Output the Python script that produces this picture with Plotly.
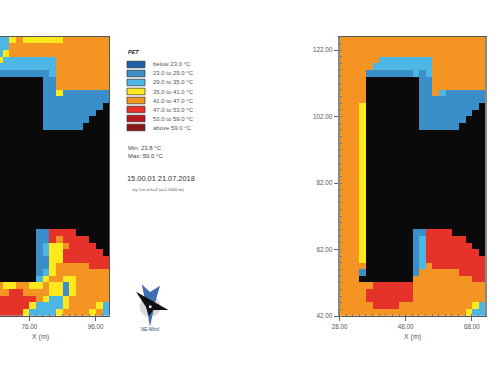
import plotly.graph_objects as go

# ---- data ----
legend_labels = ["below 23.0 °C", "23.0 to 29.0 °C", "29.0 to 35.0 °C", "35.0 to 41.0 °C",
                 "41.0 to 47.0 °C", "47.0 to 53.0 °C", "53.0 to 59.0 °C", "above 59.0 °C"]
legend_colors = ["#1d5ea6", "#3a8fc9", "#4db6e2", "#ffe91c", "#f39423", "#e6332a", "#bb1722", "#8e1516"]
building_color = "#0a0a0a"
codes = "KBMLYORDA"  # K building, then the eight PET classes in order

left_x0 = 66
right_x0 = 28
y0_top = 126

left_rows = [
    "LL"+"Y"+"O"+"Y"*6+"O"*7,
    "LL"+"O"*15,
    "LY"+"O"*15,
    "Y"+"L"*8+"O"*8,
    "L"*9+"O"*8,
    "M"*8+"L"+"O"*8,
    "K"*7+"MM"+"O"*8,
    "K"*7+"MM"+"O"*8,
    "K"*7+"MM"+"Y"+"M"*7,
    "K"*7+"M"*10,
    "K"*7+"M"*9+"K",
    "K"*7+"M"*8+"KK",
    "K"*7+"M"*7+"KKK",
    "K"*7+"M"*6+"KKKK",
] + ["K"*17]*15 + [
    "K"*6+"MM"+"RRRR"+"K"*5,
    "K"*6+"MM"+"R"+"O"+"RRRR"+"KKK",
    "K"*6+"ML"+"YY"+"O"+"RRRR"+"KK",
    "K"*6+"ML"+"YY"+"R"*6+"K",
    "K"*6+"MM"+"YY"+"R"*7,
    "K"*6+"MM"+"Y"+"O"*5+"RRR",
    "K"*6+"ML"+"Y"+"O"*8,
    "K"*6+"LY"+"OO"+"YY"+"O"*5,
    "O"+"YY"+"OO"+"YY"+"O"+"YY"+"M"+"Y"+"O"*5,
    "OO"+"RR"+"OOOO"+"YY"+"M"+"Y"+"O"*5,
    "R"*6+"O"+"Y"+"LL"+"Y"+"O"*6,
    "R"*5+"Y"+"LLLL"+"Y"+"OOOO"+"Y"+"L",
    "RRRR"+"Y"+"LLLL"+"Y"+"OOOO"+"Y"+"O"+"L",
]

right_rows = [
    "O"*22,
    "O"*22,
    "O"*22,
    "O"*6+"L"*8+"O"*8,
    "O"*5+"L"*9+"O"*8,
    "O"*4+"M"*7+"LML"+"O"*8,
    "O"*4+"K"*8+"MM"+"O"*8,
    "O"*4+"K"*8+"MM"+"O"*8,
    "O"*4+"K"*8+"MM"+"OL"+"M"*6,
    "O"*4+"K"*8+"M"*10,
    "OOOY"+"K"*8+"M"*9+"K",
    "OOOY"+"K"*8+"M"*8+"KK",
    "OOOY"+"K"*8+"M"*7+"KKK",
    "OOOY"+"K"*8+"M"*6+"KKKK",
] + ["OOOY"+"K"*18]*15 + [
    "OOOY"+"K"*7+"MM"+"RRRR"+"K"*5,
    "OOOY"+"K"*7+"ML"+"R"*6+"KKK",
    "OOOY"+"K"*7+"ML"+"R"*7+"KK",
    "OOOY"+"K"*7+"ML"+"R"*8+"K",
    "OOOY"+"K"*7+"ML"+"R"*9,
    "OOOO"+"K"*7+"MLO"+"R"*8,
    "OOOM"+"K"*7+"M"+"O"*6+"RRRR",
    "OOO"+"K"*8+"O"*9+"RR",
    "O"*5+"R"*6+"O"*11,
    "O"*4+"R"*7+"O"*11,
    "O"*4+"R"*7+"O"*11,
    "O"*5+"R"*4+"O"*11+"YL",
    "O"*19+"YLL",
]

min_text = "Min: 23.8 °C"
max_text = "Max: 50.0 °C"
time_text = "15.00.01 21.07.2018"
cut_text = "x/y Cut at k=2 (z=1.5000 m)"
wind_text = "NE-Wind"

# ---- helpers ----
W, H = 500, 375
def px(x): return x / W
def py(y): return 1 - y / H

n = len(codes)
colors = [building_color] + legend_colors
colorscale = []
for i, c in enumerate(colors):
    colorscale += [[i / n, c], [(i + 1) / n, c]]

def to_z(rows):
    return [[codes.index(c) + 0.5 for c in r] for r in rows]

fig = go.Figure()
for rows, x0, xa, ya in [(left_rows, left_x0, "x", "y"), (right_rows, right_x0, "x2", "y2")]:
    fig.add_trace(go.Heatmap(
        z=to_z(rows), x0=x0 + 1, dx=2, y0=y0_top - 1, dy=-2,
        zmin=0, zmax=n, colorscale=colorscale, showscale=False,
        hoverinfo="skip", xaxis=xa, yaxis=ya))

TICK = dict(family="Liberation Sans, Arial, sans-serif", size=6.3, color="#555555")
AX = dict(showgrid=False, zeroline=False, showline=True, linecolor="#555555", linewidth=1,
          ticks="outside", ticklen=4, tickcolor="#666666", tickwidth=1, tickfont=TICK,
          tickformat=".2f", dtick=20, layer="above traces", automargin=False,
          minor=dict(ticks="inside", ticklen=2, dtick=2, tickcolor="#777777", tickwidth=0.6))
ydom = [py(316), py(36.7)]

fig.update_layout(
    width=W, height=H, margin=dict(l=0, r=0, t=0, b=0, autoexpand=False), autosize=False,
    paper_bgcolor="white", plot_bgcolor="white", showlegend=False,
    xaxis=dict(AX, domain=[0, px(109)], range=[67.15, 100], tick0=36, mirror=True, anchor="y"),
    yaxis=dict(domain=ydom, range=[42, 126], side="right", showgrid=False, zeroline=False,
               showline=True, linecolor="#555555", linewidth=1, showticklabels=False,
               ticks="", anchor="x", automargin=False),
    xaxis2=dict(AX, domain=[px(339.5), px(485)], range=[28, 72], tick0=28, mirror=True, anchor="y2"),
    yaxis2=dict(AX, domain=ydom, range=[42, 126], tick0=42, mirror=True, anchor="x2",
                linecolor="#888888", linewidth=2),
)

shapes, notes = [], []
FONT = "Liberation Sans, Arial, sans-serif"
def note(text, x, y, size, color="#444444", xanchor="left", **kw):
    notes.append(dict(text=text, x=px(x), y=py(y), xref="paper", yref="paper", showarrow=False,
                      xanchor=xanchor, yanchor="middle", align="left",
                      font=dict(family=FONT, size=size, color=color), **kw))

# legend
note("<b><i>PET</i></b>", 125.5, 52, 5.5, "#222222")
for i, (lab, col) in enumerate(zip(legend_labels, legend_colors)):
    yc = 64.5 + 9.0 * i
    shapes.append(dict(type="rect", xref="paper", yref="paper", x0=px(127), x1=px(145),
                       y0=py(yc + 3.3), y1=py(yc - 3.3), fillcolor=col,
                       line=dict(color="#333333", width=0.7)))
    note(lab, 150.5, yc, 6, "#555555")
note(min_text, 125.5, 148, 6, "#444444")
note(max_text, 125.5, 156, 6, "#444444")
note(time_text, 124.5, 178.5, 7.4, "#333333")
note(cut_text, 129.5, 189, 4.2, "#555555")
note(wind_text, 150, 329, 4.5, "#334466", xanchor="center")

# axis titles
note("X (m)", 40, 337, 7, "#555555", xanchor="center")
note("X (m)", 412, 337, 7, "#555555", xanchor="center")

# compass
def poly(pts, fill):
    d = "M " + " L ".join(f"{px(x):.5f},{py(y):.5f}" for x, y in pts) + " Z"
    shapes.append(dict(type="path", path=d, xref="paper", yref="paper", fillcolor=fill, line_width=0))

shapes.append(dict(type="circle", xref="paper", yref="paper", x0=px(139.5), x1=px(160.5),
                   y0=py(317), y1=py(296), fillcolor="#d8d9db", line_width=0))
poly([(141.7, 284.3), (150, 292), (160, 285.7), (155, 303), (150, 326.7), (145.7, 303)], "#3f6fb0")
poly([(136, 291.7), (149, 299), (168.3, 310), (153.3, 310), (149, 316), (146, 307)], "#0f0f14")
shapes.append(dict(type="rect", xref="paper", yref="paper", x0=px(149), x1=px(151.5),
                   y0=py(308), y1=py(305.5), fillcolor="#e8e8e0", line_width=0))

fig.update_layout(shapes=shapes, annotations=notes)
fig.write_html("out.html", config={"displayModeBar": False},
               post_script="document.body.style.margin='0';")
